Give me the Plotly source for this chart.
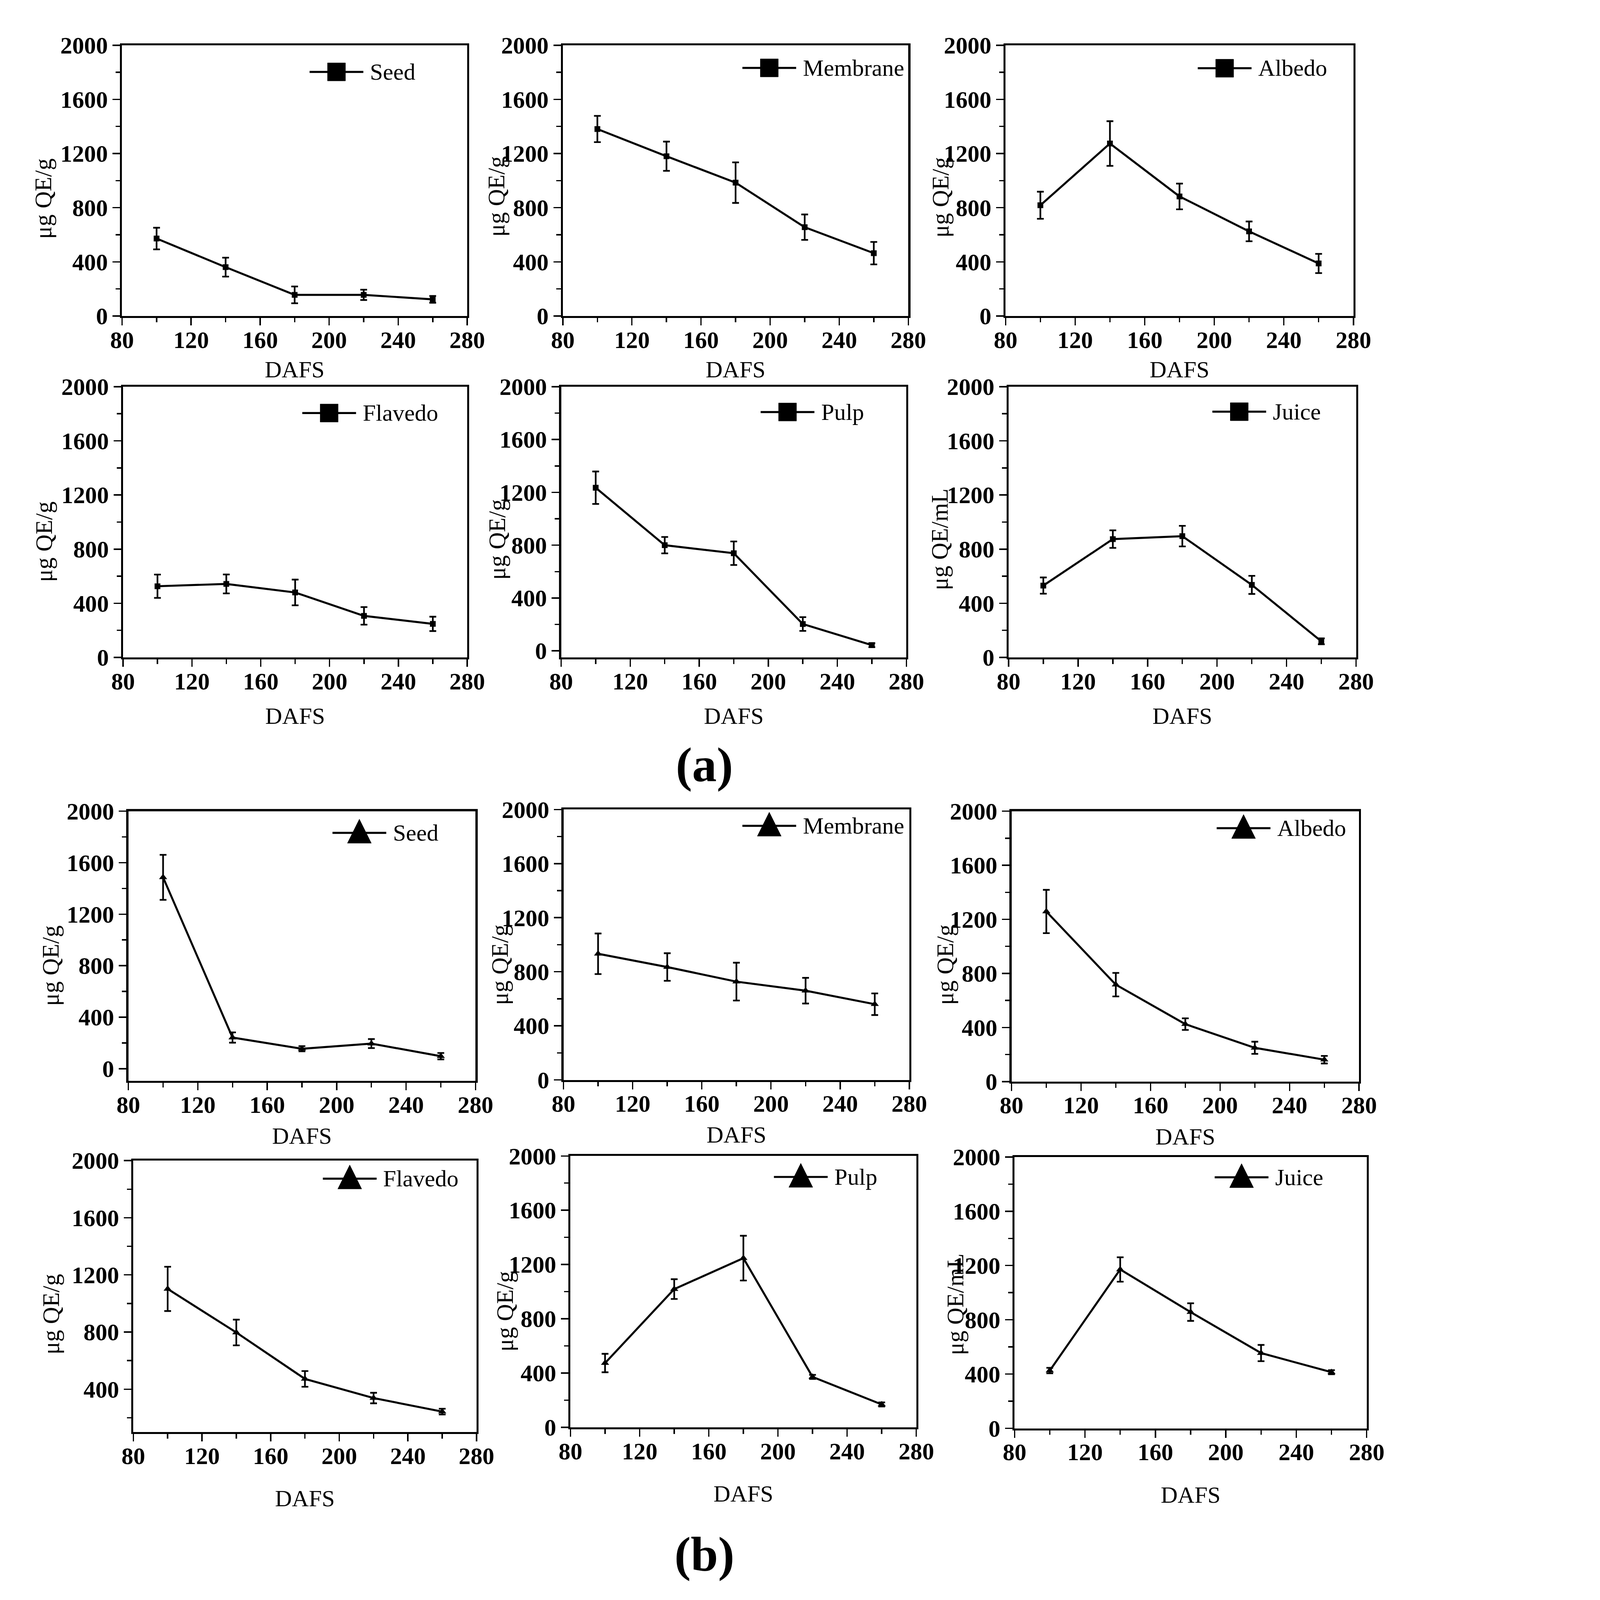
import plotly.graph_objects as go

W, H = 4173, 4719

# ---------------- data ----------------
days = [100, 140, 180, 220, 260]
tissues = ["Seed", "Membrane", "Albedo", "Flavedo", "Pulp", "Juice"]
y_titles = ["μg QE/g", "μg QE/g", "μg QE/g", "μg QE/g", "μg QE/g", "μg QE/mL"]

a_seed = [572, 361, 156, 156, 123]
a_seed_err = [80, 70, 62, 38, 25]
a_membrane = [1381, 1180, 985, 656, 464]
a_membrane_err = [97, 108, 150, 94, 83]
a_albedo = [818, 1274, 883, 625, 388]
a_albedo_err = [100, 165, 95, 73, 71]
a_flavedo = [526, 543, 480, 307, 248]
a_flavedo_err = [86, 70, 95, 65, 53]
a_pulp = [1235, 800, 739, 203, 43]
a_pulp_err = [123, 62, 89, 52, 15]
a_juice = [531, 874, 896, 536, 119]
a_juice_err = [60, 65, 76, 67, 22]

b_seed = [1486, 242, 155, 195, 97]
b_seed_err = [175, 40, 20, 35, 25]
b_membrane = [933, 835, 727, 660, 560]
b_membrane_err = [150, 102, 140, 95, 80]
b_albedo = [1258, 717, 425, 250, 162]
b_albedo_err = [160, 87, 43, 45, 28]
b_flavedo = [1102, 797, 472, 338, 243]
b_flavedo_err = [155, 90, 55, 37, 20]
b_pulp = [474, 1019, 1247, 372, 169]
b_pulp_err = [68, 73, 165, 15, 15]
b_juice = [426, 1171, 857, 555, 414]
b_juice_err = [20, 90, 65, 60, 15]

x_range = [80, 280]
y_ranges = [[0, 2000], [0, 2000], [0, 2000], [0, 2000], [-50, 2000], [0, 2000],
            [-95, 2000], [0, 2000], [0, 2000], [100, 2000], [0, 2000], [0, 2000]]

series = [a_seed, a_membrane, a_albedo, a_flavedo, a_pulp, a_juice,
          b_seed, b_membrane, b_albedo, b_flavedo, b_pulp, b_juice]
errors = [a_seed_err, a_membrane_err, a_albedo_err, a_flavedo_err, a_pulp_err, a_juice_err,
          b_seed_err, b_membrane_err, b_albedo_err, b_flavedo_err, b_pulp_err, b_juice_err]

# ---------------- layout (pixel boxes: left, right, top, bottom) ----------------
boxes = [
    (332, 1372, 97, 909), (1660, 2701, 97, 909), (2994, 4042, 97, 909),
    (335, 1372, 1121, 1933), (1655, 2695, 1121, 1933), (3003, 4050, 1121, 1933),
    (351, 1397, 2394, 3203), (1662, 2704, 2389, 3200), (3012, 4059, 2394, 3205),
    (366, 1400, 3442, 4256), (1683, 2725, 3428, 4242), (3021, 4082, 3431, 4245),
]
leg_pos = [(897, 177), (2201, 165), (3573, 166),
           (875, 1200), (2256, 1197), (3617, 1196),
           (966, 2459), (2201, 2438), (3630, 2445),
           (937, 3496), (2296, 3491), (3624, 3492)]
ytitle_dist = [237, 200, 196, 238, 193, 207, 235, 192, 200, 248, 197, 178]
ytitle_drop = [54, 47, 50, 59, 52, 52, 59, 60, 55, 54, 59, 35]
xtitle_standoff = [27, 41, 31, 65]

FONT = "Liberation Serif"
LW = 6
TICK = 70


def px(x):
    return x / W


def py(y):
    return 1 - y / H


fig = go.Figure()
shapes = []
annotations = []
layout = {}

for i in range(12):
    n = i + 1
    k = i % 6
    sym = "square" if i < 6 else "triangle-up"
    msize = 17 if i < 6 else 21
    fig.add_trace(go.Scatter(
        x=days, y=series[i], mode="lines+markers",
        line=dict(color="black", width=6),
        marker=dict(symbol=sym, size=msize, color="black"),
        error_y=dict(type="data", array=errors[i], visible=True,
                     color="black", thickness=5, width=10),
        xaxis=f"x{n}", yaxis=f"y{n}", showlegend=False, name=tissues[k],
    ))
    l, r, t, b = boxes[i]
    row = i // 3
    common_line = dict(showline=True, linecolor="black", linewidth=LW,
                       showgrid=False, zeroline=False)
    layout[f"xaxis{n}"] = dict(
        domain=[px(l), px(r)], anchor=f"y{n}", range=x_range, dtick=40, tick0=0,
        ticks="outside", ticklen=22, tickwidth=4, tickcolor="black",
        minor=dict(dtick=20, ticks="outside", ticklen=13, tickwidth=4, tickcolor="black"),
        tickfont=dict(family=FONT, size=TICK, color="black", weight="bold"),
        ticklabelstandoff=-18,
        title=dict(text="DAFS", font=dict(family=FONT, size=69, color="black"),
                   standoff=xtitle_standoff[row]),
        mirror=True, **common_line)
    layout[f"yaxis{n}"] = dict(
        domain=[py(b), py(t)], anchor=f"x{n}", range=y_ranges[i], dtick=400, tick0=0,
        ticks="outside", ticklen=22, tickwidth=4, tickcolor="black",
        minor=dict(dtick=200, ticks="outside", ticklen=13, tickwidth=4, tickcolor="black"),
        tickfont=dict(family=FONT, size=TICK, color="black", weight="bold"),
        mirror=True, **common_line)
    # top / right axes carrying the inward-pointing ticks
    layout[f"xaxis{n + 12}"] = dict(
        overlaying=f"x{n}", anchor=f"y{n}", side="top", range=x_range, dtick=40, tick0=0,
        ticks="inside", ticklen=18, tickwidth=4, tickcolor="black",
        minor=dict(dtick=20, ticks="inside", ticklen=12, tickwidth=4, tickcolor="black"),
        showticklabels=False, showgrid=False, zeroline=False, showline=False)
    layout[f"yaxis{n + 12}"] = dict(
        overlaying=f"y{n}", anchor=f"x{n}", side="right", range=y_ranges[i], dtick=400, tick0=0,
        ticks="inside", ticklen=18, tickwidth=4, tickcolor="black",
        minor=dict(dtick=200, ticks="inside", ticklen=12, tickwidth=4, tickcolor="black"),
        showticklabels=False, showgrid=False, zeroline=False, showline=False)

    # y-axis title
    annotations.append(dict(text=y_titles[k], xref="paper", yref="paper",
                            x=px(l - ytitle_dist[i]), y=py((t + b) / 2 + ytitle_drop[i]),
                            xanchor="center", yanchor="middle", textangle=-90,
                            showarrow=False,
                            font=dict(family=FONT, size=70, color="black")))

    # legend sample: line + large marker + label
    lx, ly = leg_pos[i]
    shapes.append(dict(type="line", xref="paper", yref="paper",
                       x0=px(lx), x1=px(lx + 162), y0=py(ly), y1=py(ly),
                       line=dict(color="black", width=LW)))
    cx = lx + 81
    if i < 6:
        s = 27
        shapes.append(dict(type="rect", xref="paper", yref="paper",
                           x0=px(cx - s), x1=px(cx + s), y0=py(ly + s), y1=py(ly - s),
                           fillcolor="black", line=dict(color="black", width=1)))
    else:
        hw, hh = 36, 31
        path = (f"M {px(cx - hw)},{py(ly + hh)} L {px(cx + hw)},{py(ly + hh)} "
                f"L {px(cx)},{py(ly - hh - 10)} Z")
        shapes.append(dict(type="path", xref="paper", yref="paper", path=path,
                           fillcolor="black", line=dict(color="black", width=1)))
    annotations.append(dict(text=tissues[k], xref="paper", yref="paper",
                            x=px(lx + 180), y=py(ly), xanchor="left", yanchor="middle",
                            showarrow=False,
                            font=dict(family=FONT, size=69, color="black")))

annotations.append(dict(text="(a)", xref="paper", yref="paper", x=px(2087), y=py(2254),
                        xanchor="center", yanchor="middle", showarrow=False,
                        font=dict(family=FONT, size=145, color="black", weight="bold")))
annotations.append(dict(text="(b)", xref="paper", yref="paper", x=px(2087), y=py(4622),
                        xanchor="center", yanchor="middle", showarrow=False,
                        font=dict(family=FONT, size=145, color="black", weight="bold")))

fig.update_layout(
    width=W, height=H, margin=dict(l=0, r=0, t=0, b=0),
    paper_bgcolor="white", plot_bgcolor="white",
    showlegend=False, shapes=shapes, annotations=annotations,
    font=dict(family=FONT, color="black"),
    **layout,
)

# shrink the whole figure uniformly if the browser viewport is smaller than the figure
fit_js = (
    "document.documentElement.style.overflow='hidden';"
    "document.body.style.margin='0';"
    "var g=document.querySelector('.plotly-graph-div');"
    f"var s=Math.min(1, window.innerWidth/{W}, window.innerHeight/{H});"
    "g.style.transformOrigin='0 0';"
    "g.style.transform='scale('+s+')';"
)
fig.write_html("out.html", config={"displayModeBar": False}, post_script=fit_js)
